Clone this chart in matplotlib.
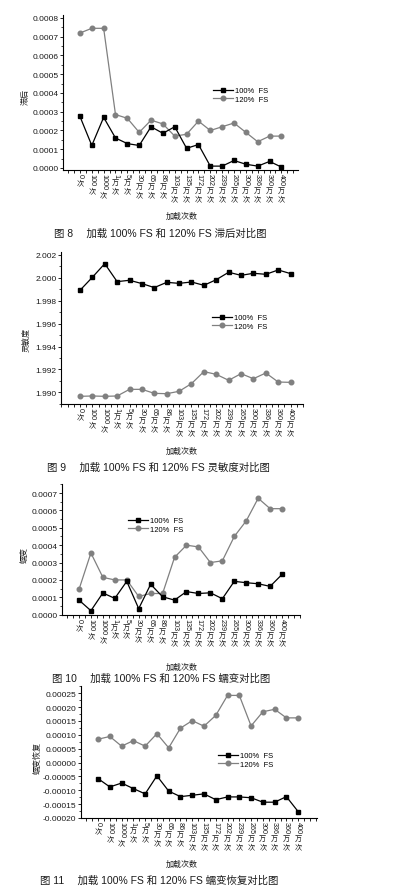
import re
import matplotlib
matplotlib.use('Agg')
import matplotlib.pyplot as plt
from matplotlib.ticker import MultipleLocator, FormatStrFormatter

plt.rcParams['font.family'] = ['Liberation Sans', 'Noto Sans CJK SC']
plt.rcParams['axes.unicode_minus'] = False

# loading counts (x categories)
load_labels = ['0次', '100次', '1000次', '1万次', '5万次', '30万次', '65万次', '86万次',
               '103万次', '135万次', '172万次', '202万次', '239万次', '265万次',
               '300万次', '336万次', '360万次', '400万次']

# Fig 8: hysteresis
hyst_100 = [0.000275, 0.00012, 0.00027, 0.00016, 0.00013, 0.00012, 0.00022, 0.000185,
            0.00022, 0.000105, 0.000125, 0.00001, 0.00001, 0.00004, 0.00002, 0.00001,
            0.000035, 0.000005]
hyst_120 = [0.00072, 0.000745, 0.000745, 0.000285, 0.000265, 0.00019, 0.000255, 0.000235,
            0.00017, 0.00018, 0.00025, 0.0002, 0.00022, 0.00024, 0.00019, 0.00014,
            0.00017, 0.00017]

# Fig 9: sensitivity
sens_100 = [1.99891, 2.00005, 2.00124, 1.99967, 1.99979, 1.99950, 1.99915, 1.99961,
            1.99952, 1.99964, 1.99935, 1.99984, 2.00049, 2.00022, 2.00040, 2.00031,
            2.00069, 2.00037]
sens_120 = [1.98965, 1.98968, 1.98965, 1.98968, 1.99026, 1.99026, 1.98991, 1.98988,
            1.99009, 1.99076, 1.99181, 1.99157, 1.99105, 1.99163, 1.99119, 1.99169,
            1.99090, 1.99087]

# Fig 10: creep
creep_100 = [0.000084, 0.000023, 0.000125, 0.000094, 0.000192, 0.000035, 0.000175, 0.000103,
             0.000084, 0.000133, 0.000122, 0.000126, 0.000092, 0.000192, 0.000184, 0.000178,
             0.000163, 0.000232]
creep_120 = [0.000145, 0.000355, 0.000215, 0.0002, 0.0002, 0.000105, 0.000122, 0.000122,
             0.00033, 0.0004, 0.00039, 0.0003, 0.00031, 0.00045, 0.00054, 0.00067,
             0.00061, 0.00061]

# Fig 11: creep recovery
recov_100 = [-0.000058, -0.000088, -0.000074, -0.000094, -0.000113, -0.000048, -0.000103,
             -0.000123, -0.000118, -0.000113, -0.000134, -0.000124, -0.000124, -0.000127,
             -0.000143, -0.000143, -0.000123, -0.000177]
recov_120 = [0.000084, 0.000094, 0.000059, 0.000079, 0.000059, 0.000104, 0.000053, 0.000124,
             0.000151, 0.000131, 0.00017, 0.000242, 0.000242, 0.000132, 0.000183, 0.000192,
             0.000161, 0.000161]

W, H = 395, 895
fig = plt.figure(figsize=(W / 100, H / 100), dpi=100)
txt = '#1a1a1a'


def draw_panel(box, s100, s120, xlim, ylim, ystep, fmt, ylabel, ylabel_px, leg_xy,
               xlabel_y, caption, caption_px):
    left, top, right, bottom = box
    ax = fig.add_axes([left / W, 1 - bottom / H, (right - left) / W, (bottom - top) / H])
    x = list(range(len(load_labels)))
    ax.plot(x, s100, color='black', marker='s', ms=3, lw=0.9, label='100%  FS', zorder=3)
    ax.plot(x, s120, color='#808080', marker='o', ms=3.3, lw=0.9, label='120%  FS', zorder=2)
    ax.set_xlim(*xlim)
    ax.set_ylim(*ylim)
    for s in ['top', 'right']:
        ax.spines[s].set_visible(False)
    for s in ['left', 'bottom']:
        ax.spines[s].set_linewidth(0.8)
    ax.xaxis.set_major_locator(MultipleLocator(1))
    ax.xaxis.set_minor_locator(MultipleLocator(0.5))
    ax.yaxis.set_major_locator(MultipleLocator(ystep))
    ax.yaxis.set_minor_locator(MultipleLocator(ystep / 2))
    ax.yaxis.set_major_formatter(FormatStrFormatter(fmt))
    ax.tick_params(axis='x', which='both', direction='out', length=2, width=0.6,
                   labelbottom=False)
    ax.tick_params(axis='y', which='major', direction='out', length=2.2, width=0.6,
                   labelsize=6, pad=1, labelcolor=txt)
    ax.tick_params(axis='y', which='minor', direction='out', length=1.3, width=0.5)

    # vertical tick labels: rotated number, upright Chinese characters below
    for i, lab in enumerate(load_labels):
        m = re.match(r'(\d+)(.*)', lab)
        num = ax.annotate(m.group(1), xy=(i, 0), xycoords=('data', 'axes fraction'),
                          xytext=(0, -2.5), textcoords='offset points', rotation=270,
                          ha='center', va='top', fontsize=5.2, color=txt,
                          annotation_clip=False)
        ax.annotate('\n'.join(m.group(2)), xy=(0.5, 0), xycoords=num,
                    xytext=(0, -1.2), textcoords='offset points', ha='center', va='top',
                    fontsize=5.2, linespacing=1.15, color=txt, annotation_clip=False)

    ax.legend(loc='upper left', bbox_to_anchor=leg_xy, frameon=False, fontsize=5.5,
              handlelength=2.6, handletextpad=0.3, labelspacing=0.15, borderpad=0,
              borderaxespad=0)
    fig.text(ylabel_px[0] / W, 1 - ylabel_px[1] / H, ylabel, rotation=90, ha='center',
             va='center', fontsize=5.8, color=txt)
    fig.text(182 / W, 1 - xlabel_y / H, '加载次数', ha='center', va='center',
             fontsize=5.8, color=txt)
    fig.text(caption_px[0] / W, 1 - caption_px[1] / H, caption, ha='left', va='center',
             fontsize=7.5, color=txt)
    return ax


draw_panel((63, 16, 298, 171), hyst_100, hyst_120, (-1.43, 18.4), (-0.0000107, 0.000816),
           0.0001, '%.4f', '滞后', (26, 97), (0.638, 0.535), 217,
           '图 8　 加载 100% FS 和 120% FS 滞后对比图', (54, 234))

draw_panel((61, 253, 303, 405), sens_100, sens_120, (-1.53, 18.0), (1.98898, 2.00226),
           0.002, '%.3f', '灵敏度', (27, 340), (0.624, 0.592), 452,
           '图 9　 加载 100% FS 和 120% FS 灵敏度对比图', (47, 468))

draw_panel((62, 485, 300, 615.7), creep_100, creep_120, (-1.42, 18.5), (0, 0.000752),
           0.0001, '%.4f', '蠕变', (25, 555), (0.277, 0.748), 668,
           '图 10　 加载 100% FS 和 120% FS 蠕变对比图', (52, 679))

draw_panel((81, 686.7, 317, 819), recov_100, recov_120, (-1.45, 18.6), (-0.0002, 0.000277),
           0.00005, '%.5f', '蠕变恢复', (38, 758), (0.58, 0.499), 865,
           '图 11　 加载 100% FS 和 120% FS 蠕变恢复对比图', (40, 881))

fig.savefig('out.png', dpi=100, facecolor='white')
